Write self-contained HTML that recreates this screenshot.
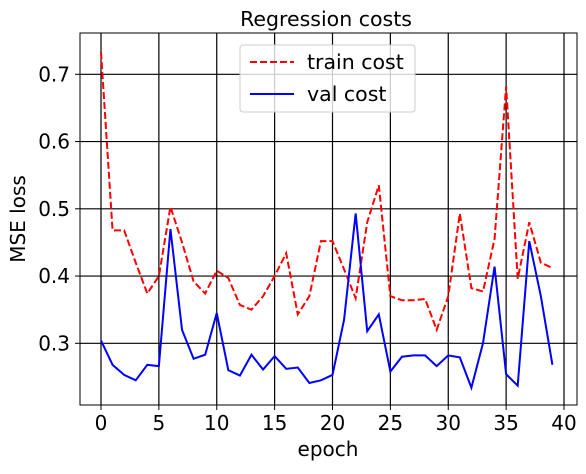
<!DOCTYPE html>
<html><head><meta charset="utf-8"><style>
body{margin:0;background:#fff;}
svg text{font-family:"DejaVu Sans","Liberation Sans",sans-serif;fill:#000;}
</style></head><body>
<svg width="586" height="469" id="chart">
<text x="326" y="26" font-size="20.5" text-anchor="middle">Regression costs</text>
<g id="grid"></g>
<g id="lines"></g>
<rect x="80" y="33" width="497" height="372" fill="none" stroke="#000" stroke-width="1"/>
<g id="ticks"></g>
<text x="328" y="456" font-size="20" text-anchor="middle">epoch</text>
<text x="25" y="219" font-size="20" text-anchor="middle" transform="rotate(-90 25 219)">MSE loss</text>
<g>
<rect x="240" y="45" width="175" height="67" rx="3" fill="#fff" fill-opacity="0.8" stroke="#ccc"/>
<line x1="250" y1="62" x2="294" y2="62" stroke="#f00" stroke-width="2" stroke-dasharray="7,3"/>
<text x="307" y="69" font-size="20.5">train cost</text>
<line x1="250" y1="94" x2="294" y2="94" stroke="#00f" stroke-width="2"/>
<text x="307" y="101" font-size="20.5">val cost</text>
</g>
</svg>
<script>
const epochs=[...Array(40).keys()];
const trainCost=[0.733,0.468,0.468,0.42,0.374,0.40,0.503,0.45,0.392,0.374,0.408,0.397,0.357,0.35,0.37,0.40,0.434,0.343,0.37,0.452,0.452,0.41,0.367,0.48,0.535,0.37,0.364,0.364,0.366,0.32,0.37,0.493,0.382,0.377,0.455,0.682,0.396,0.48,0.42,0.412];
const valCost=[0.304,0.268,0.253,0.245,0.268,0.266,0.47,0.32,0.277,0.283,0.345,0.26,0.252,0.283,0.261,0.281,0.262,0.264,0.241,0.245,0.253,0.335,0.493,0.318,0.343,0.258,0.28,0.282,0.282,0.266,0.282,0.279,0.234,0.3,0.414,0.254,0.237,0.452,0.37,0.268];
const xTicks=[0,5,10,15,20,25,30,35,40];
const yTicks=[0.3,0.4,0.5,0.6,0.7];
const X=v=>101+v*11.575;
const Y=v=>343.3-(v-0.3)*672.5;
const NS='http://www.w3.org/2000/svg';
const grid=document.getElementById('grid'),ticks=document.getElementById('ticks'),lines=document.getElementById('lines');
function mk(tag,attrs,parent){const e=document.createElementNS(NS,tag);for(const k in attrs)e.setAttribute(k,attrs[k]);parent.appendChild(e);return e;}
xTicks.forEach(t=>{
 const g=mk('line',{x1:X(t),x2:X(t),y1:33,y2:405,stroke:'#000','stroke-width':1.2},grid);
 
 
 mk('line',{x1:X(t),x2:X(t),y1:405,y2:410,stroke:'#000'},ticks);
 const l=mk('text',{x:X(t),y:430,'font-size':20,'text-anchor':'middle'},ticks);
 l.textContent=t;
 
 
});
yTicks.forEach(t=>{
 const g=mk('line',{x1:80,x2:577,y1:Y(t),y2:Y(t),stroke:'#000','stroke-width':1.2},grid);
 
 
 mk('line',{x1:75,x2:80,y1:Y(t),y2:Y(t),stroke:'#000'},ticks);
 const l=mk('text',{x:70,y:Y(t)+7,'font-size':20,'text-anchor':'end'},ticks);
 l.textContent=t.toFixed(1);
 
 
});
const tp=mk('polyline',{points:epochs.map(i=>X(i)+','+Y(trainCost[i])).join(' '),fill:'none',stroke:'#f00','stroke-width':2,'stroke-dasharray':'7,3'},lines);


const vp=mk('polyline',{points:epochs.map(i=>X(i)+','+Y(valCost[i])).join(' '),fill:'none',stroke:'#00f','stroke-width':2},lines);


</script>
</body></html>
